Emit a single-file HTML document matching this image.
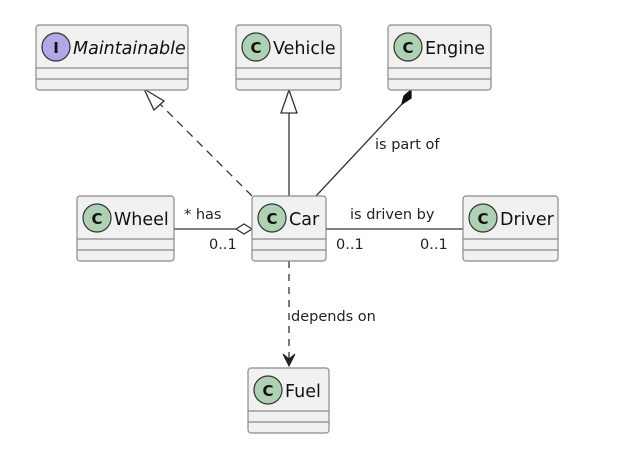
<!DOCTYPE html>
<html><head><style>
html,body{margin:0;padding:0;background:#fff;}
svg{display:block;}
text{font-family:"DejaVu Sans","Liberation Sans",sans-serif;}
</style></head><body>
<svg width="642" height="465" viewBox="0 0 642 465" xmlns="http://www.w3.org/2000/svg">
<line x1="252" y1="196" x2="154" y2="98" stroke="#333" stroke-width="1.3" stroke-dasharray="8,6"/>
<polygon points="144,89 164,101 154,110" fill="#fff" stroke="#333" stroke-width="1.3"/>
<line x1="289" y1="196" x2="289" y2="113" stroke="#333" stroke-width="1.3"/>
<polygon points="289,90 281,113 297,113" fill="#fff" stroke="#333" stroke-width="1.3"/>
<line x1="316" y1="196" x2="402" y2="104" stroke="#333" stroke-width="1.3"/>
<polygon points="411,90 411,98 402,104 404,96" fill="#111" stroke="#111" stroke-width="1.3"/>
<line x1="174" y1="229" x2="236" y2="229" stroke="#333" stroke-width="1.3"/>
<polygon points="252,229 244,224 236,229 244,234" fill="#fff" stroke="#333" stroke-width="1.3"/>
<line x1="326" y1="229" x2="463" y2="229" stroke="#333" stroke-width="1.3"/>
<line x1="289" y1="261" x2="289" y2="360" stroke="#333" stroke-width="1.3" stroke-dasharray="7,6"/>
<polygon points="283,354 289,366 295,354 289,359" fill="#222" stroke="#222" stroke-width="1"/>
<g font-size="14.5" fill="#222">
<text x="375" y="149">is part of</text>
<text x="184" y="219">* has</text>
<text x="209" y="249">0..1</text>
<text x="350" y="219">is driven by</text>
<text x="336" y="249">0..1</text>
<text x="420" y="249">0..1</text>
<text x="291" y="321">depends on</text>
</g>
<g stroke="#8a8a8a" stroke-width="1.2" fill="#f1f1f1">
<rect x="36" y="25" width="152" height="65" rx="3"/>
<rect x="236" y="25" width="105" height="65" rx="3"/>
<rect x="388" y="25" width="103" height="65" rx="3"/>
<rect x="77" y="196" width="97" height="65" rx="3"/>
<rect x="252" y="196" width="74" height="65" rx="3"/>
<rect x="463" y="196" width="95" height="65" rx="3"/>
<rect x="248" y="368" width="81" height="65" rx="3"/>
</g>
<g stroke="#8a8a8a" stroke-width="1.2">
<line x1="36" y1="68" x2="188" y2="68"/><line x1="36" y1="79" x2="188" y2="79"/>
<line x1="236" y1="68" x2="341" y2="68"/><line x1="236" y1="79" x2="341" y2="79"/>
<line x1="388" y1="68" x2="491" y2="68"/><line x1="388" y1="79" x2="491" y2="79"/>
<line x1="77" y1="239" x2="174" y2="239"/><line x1="77" y1="250" x2="174" y2="250"/>
<line x1="252" y1="239" x2="326" y2="239"/><line x1="252" y1="250" x2="326" y2="250"/>
<line x1="463" y1="239" x2="558" y2="239"/><line x1="463" y1="250" x2="558" y2="250"/>
<line x1="248" y1="411" x2="329" y2="411"/><line x1="248" y1="422" x2="329" y2="422"/>
</g>
<g stroke="#333" stroke-width="1.2">
<circle cx="56" cy="47" r="14" fill="#b4a7e5"/>
<circle cx="256" cy="47" r="14" fill="#add1b2"/>
<circle cx="408" cy="47" r="14" fill="#add1b2"/>
<circle cx="97" cy="218" r="14" fill="#add1b2"/>
<circle cx="272" cy="218" r="14" fill="#add1b2"/>
<circle cx="483" cy="218" r="14" fill="#add1b2"/>
<circle cx="268" cy="390" r="14" fill="#add1b2"/>
</g>
<g font-size="15" font-weight="bold" fill="#111" text-anchor="middle">
<text x="56" y="53">I</text>
<text x="256" y="53">C</text>
<text x="408" y="53">C</text>
<text x="97" y="224">C</text>
<text x="272" y="224">C</text>
<text x="483" y="224">C</text>
<text x="268" y="396">C</text>
</g>
<g font-size="17.5" fill="#111">
<text x="73" y="54" font-style="italic">Maintainable</text>
<text x="273" y="54">Vehicle</text>
<text x="425" y="54">Engine</text>
<text x="114" y="225">Wheel</text>
<text x="289" y="225">Car</text>
<text x="500" y="225">Driver</text>
<text x="285" y="397">Fuel</text>
</g>
</svg>
</body></html>
